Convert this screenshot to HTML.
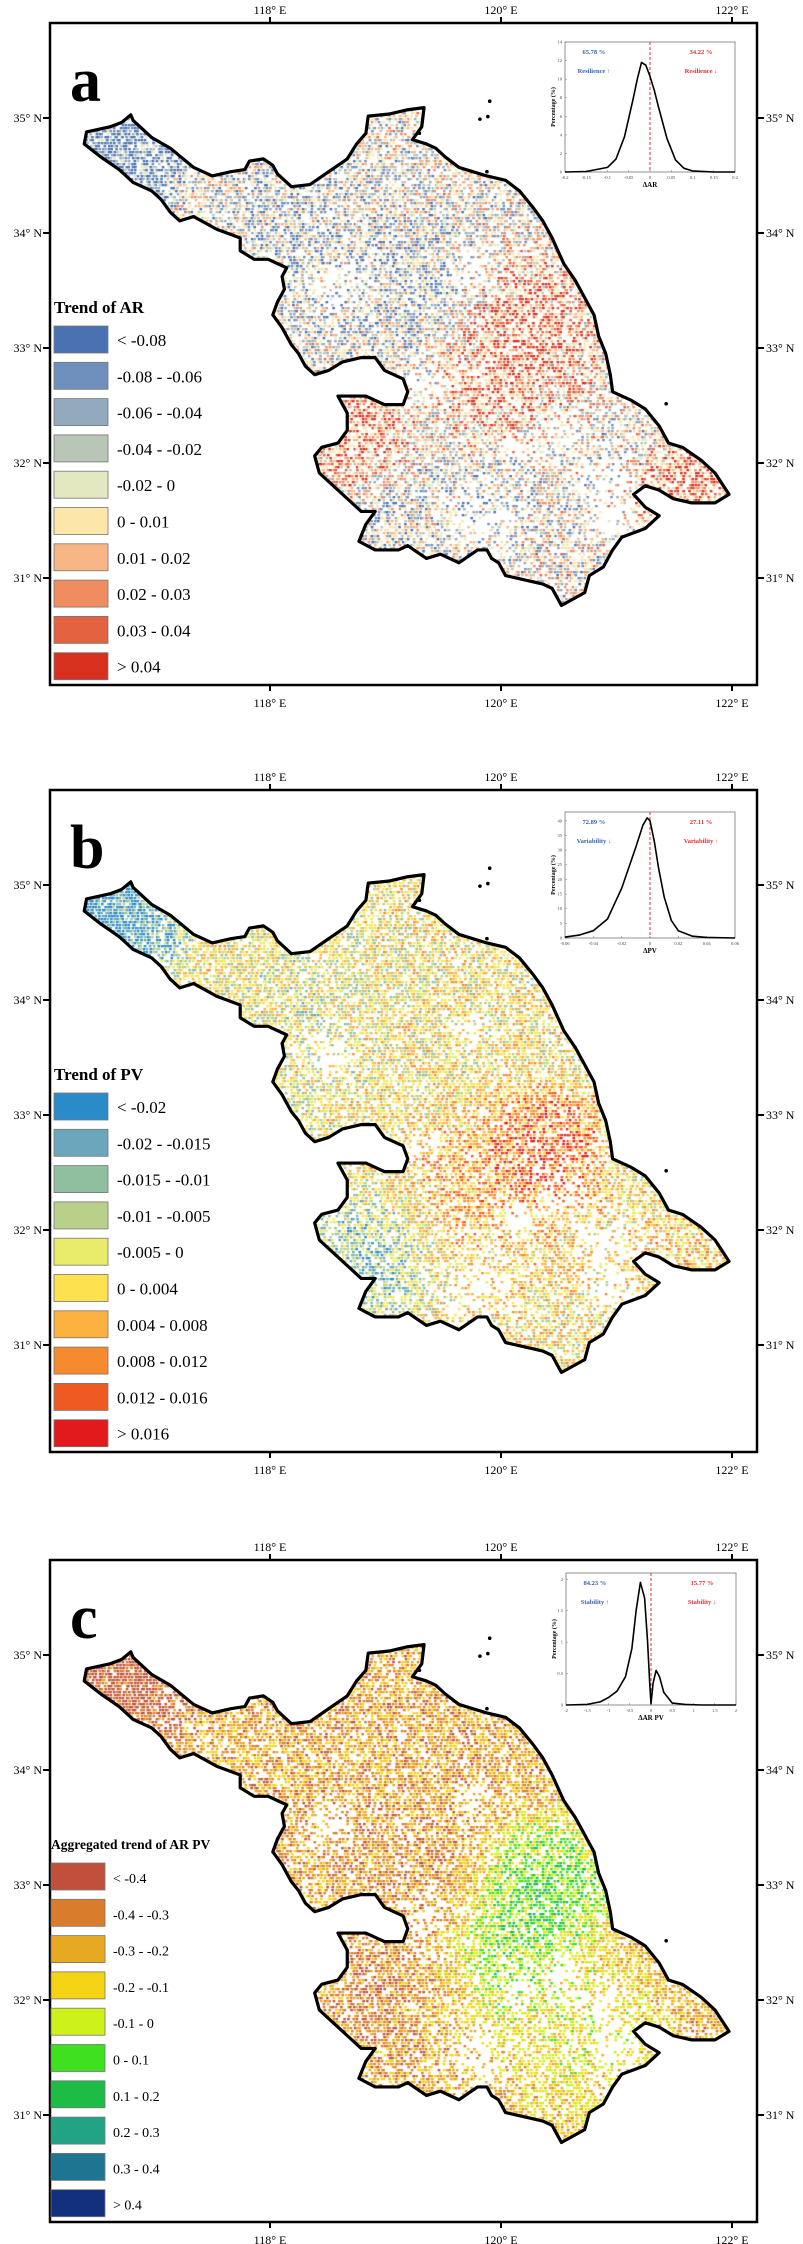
<!DOCTYPE html>
<html><head><meta charset="utf-8">
<style>
html,body{margin:0;padding:0;background:#fff;}
#wrap{position:relative;width:803px;height:2244px;overflow:hidden;font-family:"Liberation Serif",serif;}
canvas{position:absolute;left:0;}
svg{position:absolute;left:0;top:0;}
</style></head>
<body>
<div id="wrap">
<canvas id="cv0" width="803" height="700" style="top:0px"></canvas>
<canvas id="cv1" width="803" height="700" style="top:767px"></canvas>
<canvas id="cv2" width="803" height="700" style="top:1537px"></canvas>
<svg id="svg" width="803" height="2244" viewBox="0 0 803 2244"></svg>
</div>
<script>
// ---------- chart data ----------
const panelLetters = ["a","b","c"];
const lonTicks = ["118° E","120° E","122° E"];
const latTicks = ["35° N","34° N","33° N","32° N","31° N"];
const legendTitles = ["Trend of AR","Trend of PV","Aggregated trend of AR PV"];
const legendLabelsA = ["< -0.08","-0.08 - -0.06","-0.06 - -0.04","-0.04 - -0.02","-0.02 - 0","0 - 0.01","0.01 - 0.02","0.02 - 0.03","0.03 - 0.04","> 0.04"];
const legendLabelsB = ["< -0.02","-0.02 - -0.015","-0.015 - -0.01","-0.01 - -0.005","-0.005 - 0","0 - 0.004","0.004 - 0.008","0.008 - 0.012","0.012 - 0.016","> 0.016"];
const legendLabelsC = ["< -0.4","-0.4 - -0.3","-0.3 - -0.2","-0.2 - -0.1","-0.1 - 0","0 - 0.1","0.1 - 0.2","0.2 - 0.3","0.3 - 0.4","> 0.4"];
const coloursA = ["#4a72b0","#6f8fbd","#93a9bd","#b9c5b6","#e3e8c0","#fde6aa","#f8b585","#f08d60","#e4623f","#d7301f"];
const coloursB = ["#2b8bc8","#6aa6bc","#8fbf9f","#b8d08a","#e8ec6a","#fde14f","#fbb040","#f58a2e","#ef5a23","#e31a1c"];
const coloursC = ["#c0503c","#d97c2c","#e8a922","#f5d416","#cdf21a","#3ee01f","#1dbd45","#23a385","#1d7591","#12307e"];
// inset density curves
const insetAx = [-0.2,-0.15,-0.1,-0.08,-0.06,-0.04,-0.03,-0.02,-0.01,0,0.01,0.02,0.04,0.06,0.08,0.1,0.15,0.2];
const insetAy = [0,0.05,0.5,1.4,3.8,7.8,10,11.8,11.5,10.3,8.8,7,3.6,1.3,0.4,0.12,0,0];
const insetBx = [-0.06,-0.05,-0.04,-0.03,-0.02,-0.01,-0.005,-0.002,0,0.003,0.006,0.01,0.015,0.02,0.03,0.04,0.06];
const insetBy = [0.3,1,2.5,6.5,17,31,38.5,41,40,33,24,14,6,2.5,0.6,0.2,0];
const insetCx = [-2,-1.5,-1.2,-1,-0.8,-0.6,-0.45,-0.35,-0.25,-0.15,-0.08,-0.03,0,0.05,0.12,0.2,0.3,0.5,0.8,1.2,2];
const insetCy = [0,0.01,0.05,0.12,0.22,0.45,0.9,1.5,1.95,1.7,1.0,0.35,0.02,0.35,0.55,0.45,0.2,0.03,0.01,0,0];
const insetXTicksA = [-0.2,-0.15,-0.1,-0.05,0,0.05,0.1,0.15,0.2];
const insetYTicksA = [0,2,4,6,8,10,12,14];
const insetXTicksB = [-0.06,-0.04,-0.02,0,0.02,0.04,0.06];
const insetYTicksB = [0,5,10,15,20,25,30,35,40];
const insetXTicksC = [-2,-1.5,-1,-0.5,0,0.5,1,1.5,2];
const insetYTicksC = [0,0.5,1,1.5,2];
const insetPctLeft = ["65.78 %","72.89 %","84.23 %"];
const insetPctRight = ["34.22 %","27.11 %","15.77 %"];
const insetWordLeft = ["Resilience ↑","Variability ↓","Stability ↑"];
const insetWordRight = ["Resilience ↓","Variability ↑","Stability ↓"];
const insetXLabels = ["ΔAR","ΔPV","ΔAR PV"];

// ---------- geometry ----------
const NS="http://www.w3.org/2000/svg";
const svg=document.getElementById('svg');
const offs=[0,767,1537];
const FL=50,FR=757,FT=23,FB=685;
const lonX=[270,501,732];
const latY=[118,233,348,463,578];
const outlineZ=[[100,262],[150,250],[175,240],[195,222],[200,235],[240,275],[280,300],[330,345],[370,365],[410,355],[440,350],[450,330],[480,325],[500,340],[510,360],[540,390],[580,385],[620,355],[660,325],[680,290],[700,265],[705,225],[750,220],[790,210],[825,205],[820,250],[800,280],[830,290],[850,300],[870,320],[900,345],[960,365],[1000,375],[1030,400],[1060,440],[1080,470],[1100,510],[1125,570],[1150,610],[1170,650],[1190,690],[1200,740],[1215,780],[1225,830],[1230,870],[1270,890],[1300,910],[1330,950],[1350,990],[1380,1000],[1420,1030],[1450,1060],[1480,1110],[1450,1130],[1400,1130],[1360,1120],[1330,1100],[1300,1090],[1275,1110],[1300,1140],[1330,1160],[1300,1190],[1250,1210],[1230,1240],[1210,1280],[1180,1300],[1170,1340],[1120,1370],[1100,1330],[1080,1320],[1000,1300],[985,1270],[970,1260],[960,1240],[940,1240],[900,1270],[860,1250],[830,1260],[790,1230],[770,1240],[720,1240],[685,1220],[700,1180],[720,1150],[690,1150],[660,1120],[640,1100],[620,1080],[600,1060],[590,1020],[605,1000],[640,990],[660,960],[660,920],[640,880],[700,880],[740,900],[780,900],[790,870],[780,840],[740,820],[720,790],[690,790],[650,800],[620,820],[590,830],[570,810],[555,780],[540,760],[520,720],[500,690],[510,660],[525,630],[520,600],[530,580],[490,560],[460,560],[430,540],[430,510],[405,500],[380,490],[330,460],[300,470],[280,450],[260,420],[240,400],[200,380],[170,350],[130,320],[95,290]];
const outline=outlineZ.map(p=>[40+p[0]/2.148,20+p[1]/2.34]);
const islandsZ=[[966,190],[945,232],[962,226],[960,355],[1345,898],[815,265]];
const islands=islandsZ.map(p=>[40+p[0]/2.148,20+p[1]/2.34]);

function el(tag,attrs,parent){const e=document.createElementNS(NS,tag);for(const k in attrs)e.setAttribute(k,attrs[k]);(parent||svg).appendChild(e);return e;}
function txt(s,x,y,size,attrs,parent){const t=el('text',Object.assign({x:x,y:y,'font-size':size,'font-family':'"Liberation Serif", serif'},attrs||{}),parent);t.textContent=s;return t;}

// ---------- texture (map pixels) ----------
function hash(i,j,s){let h=(i*374761393+j*668265263+s*2147483647)|0;h=(h^(h>>>13))*1274126177|0;h=h^(h>>>16);return ((h>>>0)%100000)/100000;}
const LX=115,LY=150,LS=28;
const blobsSet=[
 {base:4.0,spread:7.5,blobs:[[LX,LY,LS,0.2,10],[300,250,50,2.4,1.2],[420,290,40,2.4,1.4],[520,330,40,8.2,1.6],[490,400,30,7.8,1.2],[360,440,30,8.3,1.6],[690,490,25,8.6,2.5],[470,490,35,2.8,1.2],[380,520,30,2.8,1.2]]},
 {base:4.5,spread:5,blobs:[[LX,LY,LS,0,10],[250,380,28,0.8,2],[360,500,35,1.3,1.8],[300,230,50,3.4,1],[545,385,30,8.6,2.5],[480,420,40,7,1.2],[520,500,50,5.3,1],[680,480,30,6,1]]},
 {base:1.7,spread:3.2,blobs:[[LX,LY,LS,0,12],[545,350,35,6.2,2],[510,420,30,5.5,1.5],[570,500,50,4,1.2],[375,460,25,0.8,1.8],[400,330,40,1.2,1],[600,470,30,3.5,1]]}
];
const holes=[[330,285,18],[480,520,28],[600,470,20],[520,450,14],[420,380,16],[610,520,22],[470,265,15],[560,430,14]];
const palettes=[coloursA,coloursB,coloursC];
for(let p=0;p<3;p++){
 const cv=document.getElementById('cv'+p);const ctx=cv.getContext('2d');
 ctx.save();ctx.beginPath();outline.forEach((q,i)=>i?ctx.lineTo(q[0],q[1]):ctx.moveTo(q[0],q[1]));ctx.closePath();ctx.clip();
 const cfg=blobsSet[p];
 for(let y=40;y<700;y+=3){for(let x=50;x<760;x+=3){
   const i=x/3|0,j=y/3|0;
   let dens=0.72+0.25*Math.exp(-((x-LX)**2+(y-LY)**2)/(2*LS*LS));
   for(const h of holes){const d=((x-h[0])**2+(y-h[1])**2)/(2*h[2]*h[2]+1);dens-=0.5*Math.exp(-d);}
   if(hash(i,j,p+1)>dens)continue;
   let num=cfg.base*0.6,den=0.6;
   for(const b of cfg.blobs){const g=b[4]*Math.exp(-((x-b[0])**2+(y-b[1])**2)/(2*b[2]*b[2]));num+=g*b[3];den+=g;}
   let v=num/den+(hash(i,j,p+7)-0.5)*cfg.spread;
   let k=Math.max(0,Math.min(9,Math.round(v)));
   ctx.fillStyle=palettes[p][k];ctx.fillRect(x+(hash(i,j,p+3)-0.5)*2,y,2.6,2.3);
 }}
 ctx.restore();
}

// ---------- frames, ticks, labels, outline, legend ----------
const legendLabelSets=[legendLabelsA,legendLabelsB,legendLabelsC];
for(let p=0;p<3;p++){
 const o=offs[p];
 const g=el('g',{transform:'translate(0,'+o+')'});
 
 
 const fr=el('rect',{x:FL,y:FT,width:FR-FL,height:FB-FT,fill:'none',stroke:'#000','stroke-width':2.5},g);
 
 
 lonTicks.forEach((s,i)=>{
  el('line',{x1:lonX[i],x2:lonX[i],y1:FT-6,y2:FT+1,stroke:'#000','stroke-width':2},g);
  el('line',{x1:lonX[i],x2:lonX[i],y1:FB-1,y2:FB+6,stroke:'#000','stroke-width':2},g);
  const t1=txt(s,lonX[i],FT-9,12,{'text-anchor':'middle'},g);
  
  
  const t2=txt(s,lonX[i],FB+22,12,{'text-anchor':'middle'},g);
  
  
 });
 latTicks.forEach((s,i)=>{
  el('line',{x1:FL-7,x2:FL,y1:latY[i],y2:latY[i],stroke:'#000','stroke-width':2},g);
  el('line',{x1:FR,x2:FR+7,y1:latY[i],y2:latY[i],stroke:'#000','stroke-width':2},g);
  const t1=txt(s,FL-8,latY[i]+4,12,{'text-anchor':'end'},g);
  
  
  const t2=txt(s,FR+9,latY[i]+4,12,{},g);
  
  
 });
 const ol=el('polygon',{points:outline.map(q=>q.join(',')).join(' '),fill:'none',stroke:'#000','stroke-width':3.2,'stroke-linejoin':'round'},g);
 
 
 islands.forEach(q=>{el('circle',{cx:q[0],cy:q[1],r:1.8,fill:'#000'},g);});
 const L=txt(panelLetters[p],70,101,62,{'font-weight':'bold'},g);
 
 
 const small=(p===2);
 const tt=txt(legendTitles[p],small?51:54,small?312:313,small?13.5:17,{'font-weight':'bold'},g);
 
 
 for(let k=0;k<10;k++){
  const top=326+k*36.3;
  const r=el('rect',{x:small?51:54,y:top,width:54,height:27,fill:palettes[p][k],stroke:'#777','stroke-width':0.8},g);
  
  
  const t=txt(legendLabelSets[p][k],small?113:117,top+20,small?14:17,{},g);
  
  
 }
}

// ---------- insets ----------
const insets=[
 {x0:565,x1:735,y0:42,y1:172,xd:[-0.2,0.2],yd:[0,14],xs:insetAx,ys:insetAy,xt:insetXTicksA,yt:insetYTicksA},
 {x0:565,x1:735,y0:812-767,y1:938-767,xd:[-0.06,0.06],yd:[0,43],xs:insetBx,ys:insetBy,xt:insetXTicksB,yt:insetYTicksB},
 {x0:566,x1:736,y0:36,y1:168,xd:[-2,2],yd:[0,2.1],xs:insetCx,ys:insetCy,xt:insetXTicksC,yt:insetYTicksC}
];
insets.forEach((c,p)=>{
 const g=el('g',{transform:'translate(0,'+offs[p]+')'});
 
 
 const X=v=>c.x0+(v-c.xd[0])/(c.xd[1]-c.xd[0])*(c.x1-c.x0);
 const Y=v=>c.y1-(v-c.yd[0])/(c.yd[1]-c.yd[0])*(c.y1-c.y0);
 el('rect',{x:c.x0,y:c.y0,width:c.x1-c.x0,height:c.y1-c.y0,fill:'#fff',stroke:'#777','stroke-width':0.8},g);
 c.xt.forEach(v=>{el('line',{x1:X(v),x2:X(v),y1:c.y1,y2:c.y1-2,stroke:'#777','stroke-width':0.5},g);
   txt(String(v),X(v),c.y1+7,4.5,{'text-anchor':'middle',fill:'#444'},g);});
 c.yt.forEach(v=>{el('line',{x1:c.x0,x2:c.x0+2,y1:Y(v),y2:Y(v),stroke:'#777','stroke-width':0.5},g);
   txt(String(v),c.x0-3,Y(v)+1.5,4.5,{'text-anchor':'end',fill:'#444'},g);});
 const yl=txt('Percentage (%)',0,0,6,{'text-anchor':'middle','font-weight':'bold',transform:'translate('+(c.x0-10)+','+((c.y0+c.y1)/2)+') rotate(-90)'},g);
 
 
 const xl=txt(insetXLabels[p],(c.x0+c.x1)/2,c.y1+15,7,{'text-anchor':'middle','font-weight':'bold'},g);
 
 
 el('line',{x1:X(0),x2:X(0),y1:c.y0,y2:c.y1,stroke:'#e03030','stroke-width':1,'stroke-dasharray':'3,2'},g);
 let d='';c.xs.forEach((v,i)=>{d+=(i?'L':'M')+X(v).toFixed(1)+','+Y(c.ys[i]).toFixed(1);});
 const ln=el('path',{d:d,fill:'none',stroke:'#000','stroke-width':1.6,'stroke-linejoin':'round'},g);
 
 
 const lx=c.x0+(c.x1-c.x0)*0.17,rx=c.x0+(c.x1-c.x0)*0.8;
 const a1=txt(insetPctLeft[p],lx,c.y0+12,6.5,{'text-anchor':'middle',fill:'#3a62b0','font-weight':'bold'},g);
 
 
 const a2=txt(insetWordLeft[p],lx,c.y0+31,6.5,{'text-anchor':'middle',fill:'#3a62b0','font-weight':'bold'},g);
 
 
 const a3=txt(insetPctRight[p],rx,c.y0+12,6.5,{'text-anchor':'middle',fill:'#e03030','font-weight':'bold'},g);
 
 
 const a4=txt(insetWordRight[p],rx,c.y0+31,6.5,{'text-anchor':'middle',fill:'#e03030','font-weight':'bold'},g);
 
 
});
</script>
</body></html>
